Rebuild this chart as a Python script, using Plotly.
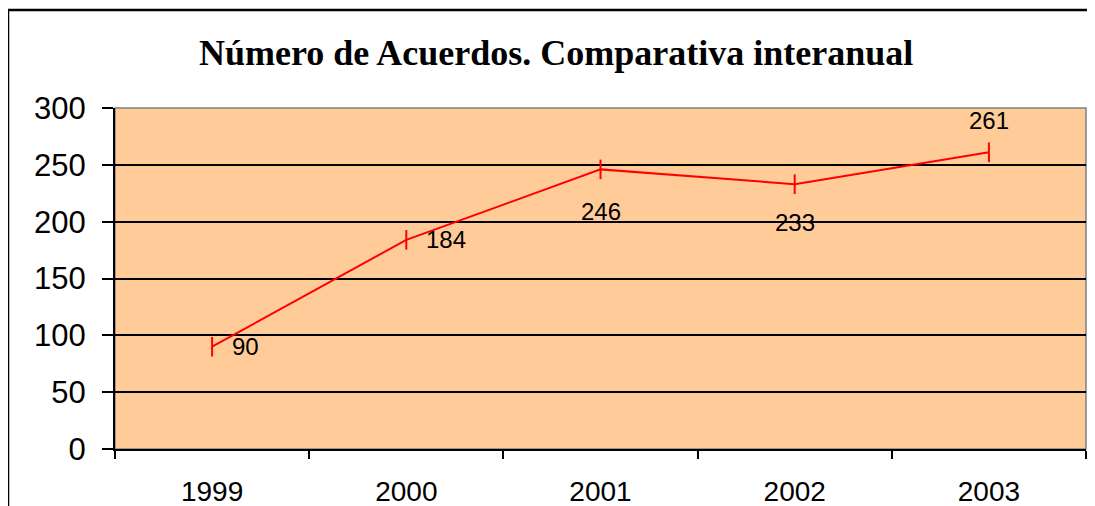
import plotly.graph_objs as go

years = ['1999', '2000', '2001', '2002', '2003']
acuerdos = [90, 184, 246, 233, 261]
y_ticks = [0, 50, 100, 150, 200, 250, 300]

# where each value label sits relative to its point (xshift, yshift, xanchor)
label_place = [(18, 0, 'left'), (18, 0, 'left'), (0, -42, 'center'),
               (0, -38, 'center'), (0, 32, 'center')]

# the page body adds an 8px offset, so the figure is drawn 8px smaller
OFF = 8
W, H = 1095 - OFF, 506 - OFF
L, R, T, B = 115 - OFF, 9, 108 - OFF, 57
pw, ph = W - L - R, H - T - B


def px_x(px):
    # window pixel -> paper x
    return (px - OFF - L) / pw


def px_y(py):
    # window pixel -> paper y
    return (H - B - (py - OFF)) / ph


xpos = list(range(len(years)))

fig = go.Figure()
fig.add_trace(go.Scatter(
    x=xpos, y=acuerdos, mode='lines+markers',
    line=dict(color='#FF0000', width=2),
    marker=dict(symbol='line-ns', size=14, line=dict(color='#FF0000', width=2)),
    text=years, hovertemplate='%{text}: %{y}<extra></extra>', showlegend=False
))

for xi, v, (dx, dy, xa) in zip(xpos, acuerdos, label_place):
    fig.add_annotation(x=xi, y=v, xref='x', yref='y', text=str(v), showarrow=False,
                       xanchor=xa, yanchor='middle', xshift=dx, yshift=dy,
                       font=dict(family='Arial, Liberation Sans', size=24, color='black'))

fig.add_annotation(text='<b>Número de Acuerdos. Comparativa interanual</b>',
                   xref='paper', yref='paper', x=px_x(556), y=px_y(53),
                   xanchor='center', yanchor='middle', showarrow=False,
                   font=dict(family='Times New Roman, Liberation Serif', size=36, color='black'))

# outer chart frame (right and bottom edges fall outside the picture)
fig.add_shape(type='line', xref='paper', yref='paper', x0=px_x(8), x1=px_x(8),
              y0=px_y(520), y1=px_y(10), line=dict(color='black', width=2.5))
fig.add_shape(type='line', xref='paper', yref='paper', x0=px_x(8), x1=px_x(1110),
              y0=px_y(10), y1=px_y(10), line=dict(color='black', width=2.5))
# plot area border
fig.add_shape(type='rect', xref='paper', yref='paper', x0=0, x1=1, y0=0, y1=1,
              line=dict(color='#808080', width=1.5), layer='below')

fig.update_layout(
    width=W, height=H,
    margin=dict(l=L, r=R, t=T, b=B),
    paper_bgcolor='white', plot_bgcolor='#FFCC99',
    xaxis=dict(range=[-0.5, len(years) - 0.5], tickvals=xpos, ticktext=years,
               ticks='', showgrid=False, showline=True, automargin=False,
               zeroline=False, linecolor='black', linewidth=2, ticklabelstandoff=16,
               minor=dict(tick0=-0.5, dtick=1, ticks='outside', ticklen=8,
                          tickcolor='black', tickwidth=1.5, showgrid=False),
               tickfont=dict(family='Arial, Liberation Sans', size=28, color='black')),
    yaxis=dict(range=[0, 300], tickvals=y_ticks, ticks='outside', ticklen=11,
               tickcolor='black', tickwidth=1.5, showgrid=True, gridcolor='black',
               gridwidth=1.5, showline=True, linecolor='black', linewidth=2,
               zeroline=False, ticklabelstandoff=10, automargin=False,
               tickfont=dict(family='Arial, Liberation Sans', size=31, color='black')),
)

fig.write_html("out.html")
